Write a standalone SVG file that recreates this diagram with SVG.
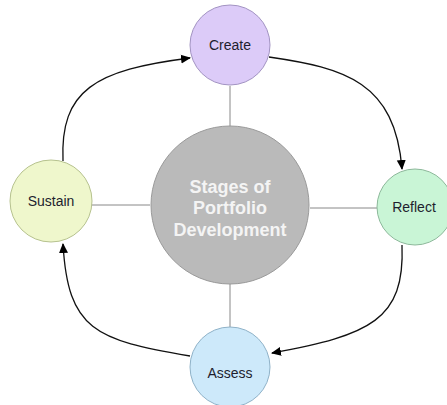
<svg xmlns="http://www.w3.org/2000/svg" width="447" height="405" viewBox="0 0 447 405">
<defs>
<marker id="ah" viewBox="0 0 10 10" refX="9" refY="5" markerWidth="10" markerHeight="10" markerUnits="userSpaceOnUse" orient="auto">
<path d="M0,0.5 L10,5 L0,9.5 z" fill="#000"/>
</marker>
</defs>
<style>
.lbl{font-family:"Liberation Sans",Arial,sans-serif;font-size:14px;fill:#1e1e2e;text-anchor:middle}
.ctr{font-family:"Liberation Sans",Arial,sans-serif;font-size:18px;font-weight:bold;fill:#f4f4f4;text-anchor:middle}
.spoke{stroke:#888;stroke-width:1;fill:none}
.arc{stroke:#111;stroke-width:1.3;fill:none;marker-end:url(#ah)}
</style>
<rect width="447" height="405" fill="#fff"/>
<g id="connectors">
<line class="spoke" x1="230" y1="86" x2="230" y2="126"/>
<line class="spoke" x1="91" y1="205" x2="150" y2="205"/>
<line class="spoke" x1="310" y1="208" x2="377" y2="208"/>
<line class="spoke" x1="230" y1="284" x2="230" y2="327"/>
<path class="arc" d="M 269 57 C 345 68, 395 82, 402 169"/>
<path class="arc" d="M 402 245 C 405 320, 370 335, 272 353"/>
<path class="arc" d="M 190 356 C 95 340, 68 330, 63 244"/>
<path class="arc" d="M 63 161 C 60 90, 95 70, 190 58"/>
</g>
<g id="center">
<circle cx="230" cy="205" r="79" fill="#bababa" stroke="#9a9a9a"/>
<text class="ctr" x="230" y="193">Stages of</text>
<text class="ctr" x="230" y="214">Portfolio</text>
<text class="ctr" x="230" y="236">Development</text>
</g>
<g id="create">
<circle cx="230" cy="45" r="40" fill="#dccbf8" stroke="#a293c2"/>
<text class="lbl" x="230" y="50">Create</text>
</g>
<g id="reflect">
<circle cx="415" cy="207" r="38" fill="#c9f5d6" stroke="#8cb89a"/>
<text class="lbl" x="414" y="212">Reflect</text>
</g>
<g id="assess">
<circle cx="230" cy="367" r="40" fill="#cde9fa" stroke="#8fb2c8"/>
<text class="lbl" x="230" y="378">Assess</text>
</g>
<g id="sustain">
<circle cx="51" cy="201" r="41" fill="#eff7cc" stroke="#b6c28e"/>
<text class="lbl" x="51" y="206">Sustain</text>
</g>
</svg>
